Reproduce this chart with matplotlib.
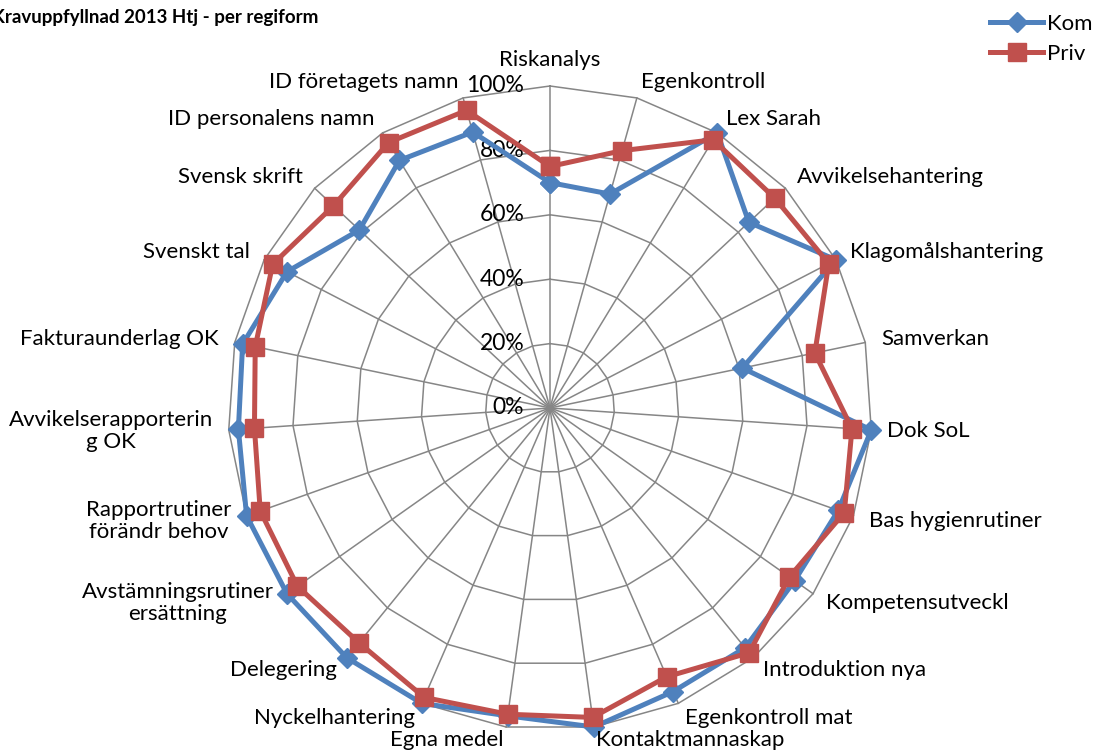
import numpy as np
import matplotlib
matplotlib.use("Agg")
import matplotlib.pyplot as plt

plt.rcParams["font.family"] = ["Lato", "DejaVu Sans"]

categories = [
    "Riskanalys", "Egenkontroll", "Lex Sarah", "Avvikelsehantering",
    "Klagomålshantering", "Samverkan", "Dok SoL", "Bas hygienrutiner",
    "Kompetensutveckl", "Introduktion nya", "Egenkontroll mat",
    "Kontaktmannaskap", "Egna medel", "Nyckelhantering", "Delegering",
    "Avstämningsrutiner\nersättning", "Rapportrutiner\nförändr behov",
    "Avvikelserapporterin\ng OK", "Fakturaunderlag OK", "Svenskt tal",
    "Svensk skrift", "ID personalens namn", "ID företagets namn",
]
kom = [0.70, 0.69, 1.00, 0.845, 1.00, 0.61, 1.00, 0.95, 0.93, 0.96, 0.96,
       1.00, 0.965, 1.00, 1.00, 1.00, 1.00, 0.97, 0.975, 0.92, 0.81, 0.90, 0.89]
priv = [0.75, 0.83, 0.975, 0.955, 0.975, 0.84, 0.94, 0.97, 0.91, 0.98, 0.91,
        0.97, 0.96, 0.98, 0.94, 0.96, 0.955, 0.92, 0.935, 0.97, 0.92, 0.965, 0.96]
ticks = [0.0, 0.2, 0.4, 0.6, 0.8, 1.0]
tick_labels = ["0%", "20%", "40%", "60%", "80%", "100%"]

blue = "#4F81BD"
red = "#C0504D"
grid = "#868686"

W, H = 1096, 751
cx, cy, R = 550, 408, 322  # centre and radius in pixels

fig = plt.figure(figsize=(W / 100, H / 100), dpi=100)
ax = fig.add_axes([0, 0, 1, 1])
ax.set_xlim(-cx / R, (W - cx) / R)
ax.set_ylim(-(H - cy) / R, cy / R)
ax.axis("off")

n = len(categories)
theta = np.arange(n) * 2 * np.pi / n
sx, sy = np.sin(theta), np.cos(theta)

# polygon grid and spokes
for t in ticks[1:]:
    ax.plot(np.append(sx, sx[0]) * t, np.append(sy, sy[0]) * t,
            color=grid, lw=1.1, zorder=1)
for i in range(n):
    ax.plot([0, sx[i]], [0, sy[i]], color=grid, lw=1.1, zorder=1)

# radial tick labels
for t, lab in zip(ticks, tick_labels):
    ax.text(-0.08, t, lab, ha="right", va="center", fontsize=16.5, zorder=2)

# series
def closed(v):
    v = np.asarray(v)
    return np.append(sx * v, sx[0] * v[0]), np.append(sy * v, sy[0] * v[0])

x, y = closed(kom)
ax.plot(x, y, color=blue, lw=3.6, marker="D", ms=10, mfc=blue, mec=blue,
        zorder=3, label="Kom")
x, y = closed(priv)
ax.plot(x, y, color=red, lw=3.6, marker="s", ms=13, mfc=red, mec=red,
        zorder=4, label="Priv")

# category labels
for i, lab in enumerate(categories):
    r = 1.05
    if abs(sx[i]) < 0.05:
        ha, va = "center", "bottom"
    elif sx[i] > 0:
        ha, va = "left", "center"
    else:
        ha, va = "right", "center"
    yy = sy[i] * r
    if sy[i] < -0.95:
        yy += 0.01
    ax.text(sx[i] * r, yy, lab, ha=ha, va=va, fontsize=16,
            multialignment="center", linespacing=1.1)

fig.text(-8 / W, 1 - 17 / H, "Kravuppfyllnad 2013 Htj - per regiform",
         ha="left", va="center", fontsize=13.5, fontweight="bold")

ax.legend(loc="upper left", bbox_to_anchor=(990 / W, 1 - 14 / H),
          bbox_transform=fig.transFigure, frameon=False, fontsize=16,
          handlelength=2.4, handletextpad=0.15, labelspacing=0.45,
          borderpad=0, borderaxespad=0)

fig.savefig("out.png", dpi=100)
